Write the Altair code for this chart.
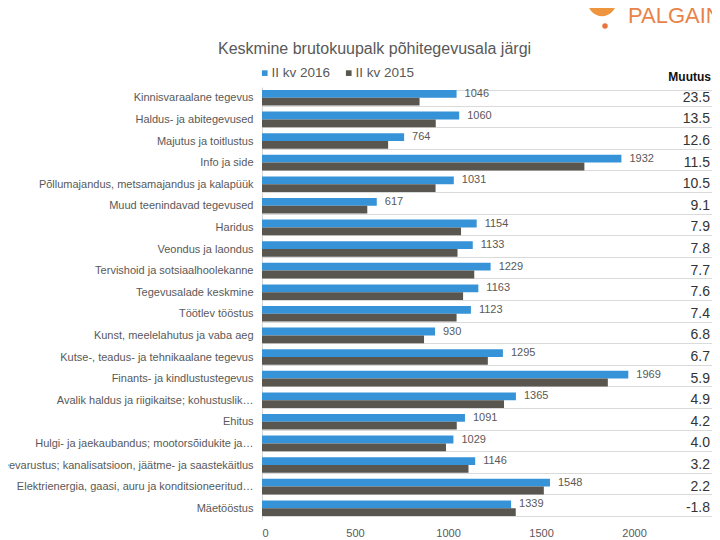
import altair as alt
import pandas as pd

FONT = "Liberation Sans"

categories = [
    "Kinnisvaraalane tegevus",
    "Haldus- ja abitegevused",
    "Majutus ja toitlustus",
    "Info ja side",
    "Põllumajandus, metsamajandus ja kalapüük",
    "Muud teenindavad tegevused",
    "Haridus",
    "Veondus ja laondus",
    "Tervishoid ja sotsiaalhoolekanne",
    "Tegevusalade keskmine",
    "Töötlev tööstus",
    "Kunst, meelelahutus ja vaba aeg",
    "Kutse-, teadus- ja tehnikaalane tegevus",
    "Finants- ja kindlustustegevus",
    "Avalik haldus ja riigikaitse; kohustuslik…",
    "Ehitus",
    "Hulgi- ja jaekaubandus; mootorsõidukite ja…",
    "Veevarustus; kanalisatsioon, jäätme- ja saastekäitlus",
    "Elektrienergia, gaasi, auru ja konditsioneeritud…",
    "Mäetööstus",
]
v2016 = [1046, 1060, 764, 1932, 1031, 617, 1154, 1133, 1229, 1163,
         1123, 930, 1295, 1969, 1365, 1091, 1029, 1146, 1548, 1339]
v2015 = [847, 934, 678, 1733, 933, 566, 1070, 1051, 1141, 1081,
         1046, 871, 1214, 1859, 1301, 1047, 989, 1110, 1515, 1364]
change = ["23.5", "13.5", "12.6", "11.5", "10.5", "9.1", "7.9", "7.8", "7.7", "7.6",
          "7.4", "6.8", "6.7", "5.9", "4.9", "4.2", "4.0", "3.2", "2.2", "-1.8"]
series = ["II kv 2016", "II kv 2015"]
colors = ["#3793d8", "#58564f"]
x_ticks = [0, 500, 1000, 1500, 2000]
title_text = "Keskmine brutokuupalk põhitegevusala järgi"

rows = []
for i, c in enumerate(categories):
    rows.append({"category": c, "series": series[0], "value": v2016[i],
                 "label": str(v2016[i]), "change": change[i]})
    rows.append({"category": c, "series": series[1], "value": v2015[i],
                 "label": str(v2015[i]), "change": change[i]})
df = pd.DataFrame(rows)

base = alt.Chart(df)

y_enc = alt.Y(
    "category:N", sort=categories,
    scale=alt.Scale(paddingInner=0.28, paddingOuter=0.14),
    axis=alt.Axis(title=None, ticks=False, labelPadding=9, labelFontSize=11,
                  labelColor="#595959", labelFont=FONT, labelLimit=320,
                  grid=True, tickBand="extent", gridColor="#dadada",
                  domainColor="#d6d6d6"),
)
yoff = alt.YOffset("series:N", sort=series, scale=alt.Scale(domain=series, paddingInner=0))

bars = base.mark_bar().encode(
    x=alt.X("value:Q", scale=alt.Scale(domain=[0, 2419], nice=False, zero=True),
            axis=alt.Axis(title=None, values=x_ticks, format="d", domain=False, ticks=False,
                          grid=False, labelPadding=8, labelFontSize=11,
                          labelColor="#595959", labelFont=FONT)),
    y=y_enc,
    yOffset=yoff,
    color=alt.Color("series:N", sort=series,
                    scale=alt.Scale(domain=series, range=colors),
                    legend=alt.Legend(title=None, orient="none", legendX=-4, legendY=-21,
                                      direction="horizontal", symbolType="square",
                                      symbolSize=32, labelFontSize=13.5, labelColor="#595959",
                                      labelFont=FONT, columnPadding=11, labelOffset=0,
                                      padding=0, symbolStrokeWidth=0)),
)

value_labels = base.transform_filter(alt.datum.series == series[0]).mark_text(
    align="left", baseline="middle", dx=8, fontSize=11, color="#595959", font=FONT
).encode(
    x=alt.X("value:Q"),
    y=alt.Y("category:N", sort=categories),
    yOffset=yoff,
    text="label:N",
)

change_labels = base.transform_filter(alt.datum.series == series[0]).mark_text(
    align="right", baseline="middle", fontSize=14, color="#333333", font=FONT
).encode(
    x=alt.value(448),
    y=alt.Y("category:N", sort=categories),
    text="change:N",
)

title = alt.Chart(pd.DataFrame({"t": [title_text]})).mark_text(
    align="left", baseline="alphabetic", fontSize=16, color="#595959", font=FONT
).encode(x=alt.value(-44), y=alt.value(-33), text="t:N")

header = alt.Chart(pd.DataFrame({"t": ["Muutus"]})).mark_text(
    align="right", baseline="middle", fontSize=12, fontWeight="bold", color="#111111", font=FONT
).encode(x=alt.value(449), y=alt.value(-10), text="t:N")

logo_text = alt.Chart(pd.DataFrame({"t": ["PALGAINFO"]})).mark_text(
    align="left", baseline="middle", fontSize=22, color="#e8844a", font=FONT
).encode(x=alt.value(366), y=alt.value(-71), text="t:N")

logo_blob = alt.Chart(pd.DataFrame({"t": ["blob"]})).mark_circle(
    size=800, color="#f0953f", opacity=1
).encode(x=alt.value(340), y=alt.value(-85))

logo_dot = alt.Chart(pd.DataFrame({"t": ["dot"]})).mark_circle(
    size=30, color="#e8763a", opacity=1
).encode(x=alt.value(343), y=alt.value(-61))

chart = alt.layer(bars, value_labels, change_labels, title, header,
                  logo_blob, logo_dot, logo_text).properties(
    width=450, height=432,
    autosize=alt.AutoSizeParams(type="none"),
    padding={"left": 254, "top": 79, "right": 0, "bottom": 19},
    background="white",
).configure_view(stroke=None)

chart.save("out.html", embed_options={"renderer": "svg", "actions": False})
